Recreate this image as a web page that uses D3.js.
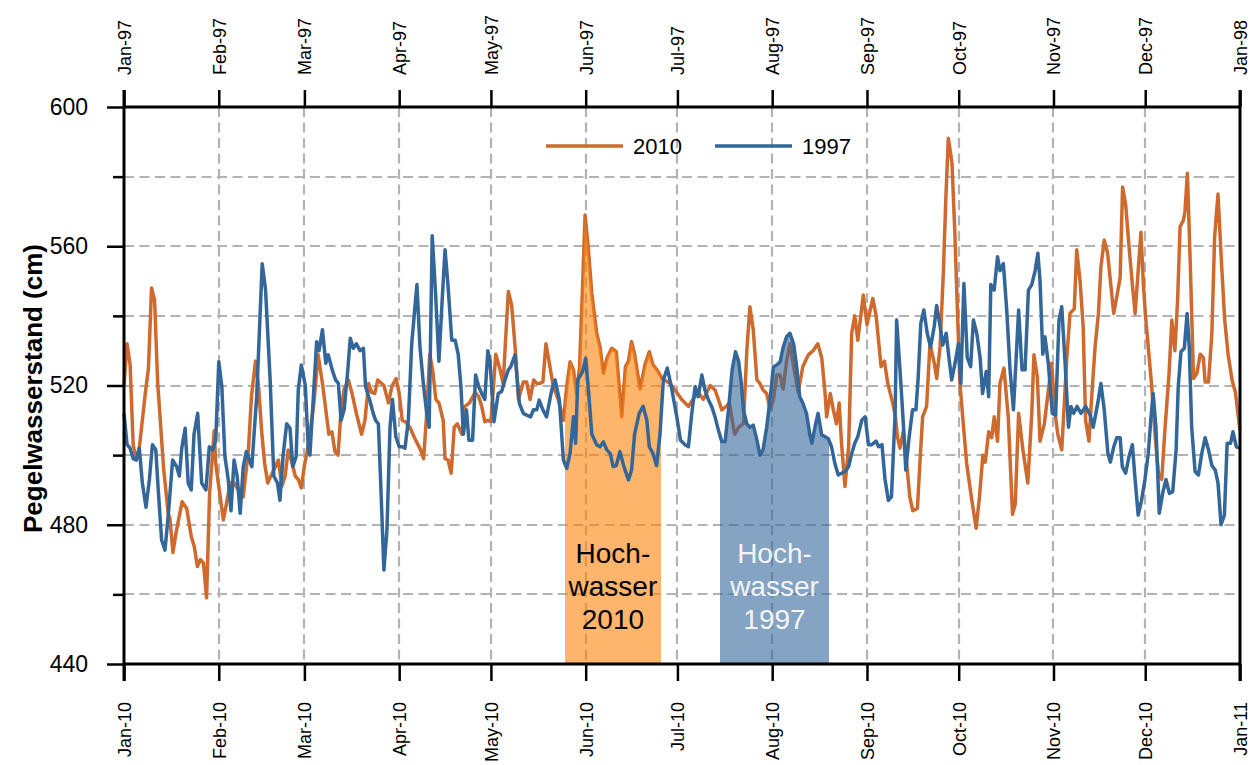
<!DOCTYPE html>
<html><head><meta charset="utf-8">
<script src="https://cdn.jsdelivr.net/npm/d3@7/dist/d3.min.js"></script>
<style>
body{margin:0;background:#fff;}
text{font-family:"Liberation Sans",Arial,sans-serif;}
</style></head>
<body><svg id="chart" width="1256" height="765"></svg>
<script>
// ---- DATA (day of year offsets from Jan 1, and water level in cm) ----
const days2010 = [0,1,2,3,4,5,7,8,9,10,11,13,14.5,15,16,17,19,20.5,22,23,24,25,26,27,28,29.5,30,31,32.5,33.5,34.7,36,38,39,40.7,41.7,43,44,45,46,47,48,49,50.5,51.6,52.7,53.7,55,56,57,58,59,60,62,63.5,65,67,68,69,70,71,72,73.4,74.5,76,77.7,78.8,80,81,82,83,85,86.5,87.7,89,90,91,92,93.5,95,97,98,99,100,101,102,103,104.4,105,106,107,108,109,110.5,111.5,113,114.8,116,117,118,119,120,121.6,123,124,125.7,126.8,128,129,130.6,131.7,132.8,134,135,136,137,138,139,140.4,142,143.7,144.8,145.9,147,148,149,150,150.8,151.8,153,154.6,155.7,156.8,158,159.5,161,162.8,164,165,166,167,168.8,170.4,171.8,173,174.7,176,178.6,180.8,182.4,184.6,186.8,187.8,189.5,191.7,193.3,194.4,195.5,197,198,199.3,199.8,201,202.6,203.7,204.7,205.8,207,208,209,210.2,211.3,212.4,213.5,214.6,215.6,216.7,217.8,219,220.5,222,223.8,225.4,226.9,228.2,229.3,229.8,231,232,233,233.9,234.7,235.8,237,238,239,240,241.8,243,244.9,246,247.6,248.7,249.8,251.4,252.3,253,253.8,254.9,256,257,258,259.5,260.3,261.2,262.5,263.6,265,265.8,266.9,268,268.8,269.6,270.8,271.7,272.5,273.4,274.5,275.6,277.3,278.7,279.8,280.9,281.7,282.8,283.8,284.6,285.7,286.5,287.8,289.2,290.6,291.5,292.6,294,295.6,296.9,297.6,298.7,299.6,301,303.4,304.4,305.4,306.7,308.3,309.4,310.8,311.6,312.7,313.7,314.5,315.6,316.5,317.6,318.7,319.5,320.6,321.7,322.8,323.7,324.7,325.8,326.6,327.6,328.7,329.8,330.7,331.7,332.6,333.4,334.1,335,336.1,337.2,338.3,339.4,340.5,341.8,342.7,343.7,344.6,345.4,346.5,347,347.8,348.7,349.8,350.9,352,353,353.6,354.7,355.8,356.7,357.8,358.9,360,361.1,362.4,363.5,365];
const level2010 = [520,532,526,503,498.6,502,518,525,548,544.6,521,495.7,483,482,472,477.6,486.6,484.7,476.6,473.7,468,470,469,459,489,507,497.6,491,481.4,486,492,492,489,488,501.5,517,527,520,507,497.6,492,494,495.7,498.6,491,494,501.5,497.6,494,493,490.6,497,501.5,514,528.8,520,506,506.7,501,500,513,519,521.6,518,512,506,510,520.6,518,517.7,521.6,520,515,520,522,517.7,510,509.6,508,505,501.5,499,512,529,524,516,515,510,499,498.6,494.8,508,509,506,514,515,518,516.8,514,509.6,510,509.6,529,524.5,520.6,547,543,530,516,521,521,516,521.6,520.6,520.6,521,532,527,519.7,516,510,519.7,526.8,524.5,517.7,525.4,549,569,560,546.5,535,531,523.5,528,530.7,529.7,511,525.4,527,532.6,529,519,526,529.7,526,524,522,520.6,518,516,514,517,518,516,520,518.7,516,513,514,515,508,506,508,509,530,542.6,536,521.6,520.6,518.7,517.7,513,516,523,523,519,527,532,525.4,518,525.4,528.8,530,532,528,517.7,511,517.7,513,509,515,503,491,502.4,535,540,533,546,537.5,545,540,525.4,527,520.6,515,511,505,502,507,497.6,488,484,484.7,497.6,511,514,532,526.4,522,531,553,574,591,584,564.7,543.6,520.6,509,497.6,487,479,488,500,498,506.7,505,511,504,520.6,525,511,483,486,512,501.5,492,512,528.8,522.5,504,509,526.4,513,506,501.5,527,540.7,542,559,550,537,510,504,516.8,531,540.7,554,561.8,558,548.4,540.7,545.5,551,577,572,560,549,540.7,553,564,549,540,531,520,506,494.8,493,508,523.5,538.8,530,544.6,565.6,567.5,570,581,556,522,523.5,529,528,521,521,535,562.7,575,556,538.8,529,521.6,518,507];

const days1997 = [0,1,2,3,4,5,6,7.2,8.3,9.3,10.4,11.2,12.3,13.4,14.5,15.9,17.2,18.1,18.9,20,21,22,22.9,24.1,25.4,26.8,27.9,29,30,31,32,33,34.1,35,36,37,38,39,40,41.8,43.4,45.2,46.3,47.8,49,50.2,51,52,53.2,54.3,55.2,56.3,57,58,59.3,60.3,60.8,62,63,63.8,64.9,66,66.8,68.1,69.2,70.1,71,72,73.2,74,75,76,77.2,78.3,79,80.5,81.5,82.3,83.2,84,85,86,87,87.8,88.9,90,91,91.9,93,94.1,95.8,96.8,97.9,99,99.8,100.8,101.9,103,104,105,106,107.2,108.3,109.3,110.2,111,112,112.8,114,115,116,117,118,119,119.7,121,122.4,123.5,124.6,125.7,126.5,127.9,129.3,130.6,131.7,133,133.9,135,135.8,137,138.2,139.9,141,142.4,143.7,144.8,145.9,147,147.7,148.4,150,151,151.9,153,154.6,155.7,156.8,157.9,159,160,161,162.2,163.5,165,166,167,168.5,169.8,171,171.8,173,174.2,175.3,176.4,177.7,179,180.8,182,183.5,184.6,185.7,186.8,187.8,189,190,191.1,192.2,193.3,194.4,195.5,196.6,197.7,198.9,200,201,201.9,202.6,203.7,204.7,205.8,207,208,209,210.2,211.3,212.4,213.5,214.6,215.6,216.7,217.8,219,220,221,222,223.2,224.3,225,226.2,227,228.2,229.3,230.3,231.4,232.5,233.6,234.7,235.8,237,238,239,240,241.3,242.4,243.5,244.6,246,246.8,247.9,248.9,250,251,252.2,252.7,253.8,254.9,255.7,256.8,257.9,259,259.7,260.6,261.6,262.7,263.8,265,265.8,266.9,267.8,268.9,269.8,270.7,271.8,272.9,273.7,274.7,275.8,276.9,277.8,278.9,280,280.8,282,282.8,283.5,284.6,285.7,286.5,287.6,288.7,289.8,290.9,291.7,292.6,293.7,294.7,295.8,296.9,298,298.9,299.6,300.5,301.2,302.3,303.6,304.7,305.8,306.7,307.8,308.9,309.7,310.6,311.7,313,314.5,316,317,318.5,319.5,320.6,321.8,322.6,323.7,324.7,325.8,326.5,327.6,328.7,329.8,330.7,331.7,332.8,333.9,335,335.9,336.6,337.5,338.6,339.7,340.8,341.9,343,344.1,344.8,345.7,346.8,347.7,348.4,349.2,350.3,351.4,352.5,353.6,354.7,355.8,356.9,357.8,358.8,359.9,360.8,361.9,362.7,363.8,365];
const level1997 = [512,503,502,499,498.6,502,492,485,493,503,501.5,490,475.6,472.7,483,498.6,496.7,494,502,507.7,492,490,506,512,492,490,502.4,501.5,504.3,526.8,519.7,499.6,492.9,484,498.6,494,483.3,496.7,501,496.7,516.8,555,547.4,521.6,494,492,487,499.6,509,507.7,496.7,499.6,518.7,525.9,520,501.5,500,517.7,532.6,530,536,526.4,528.8,524.5,521.6,520.6,510,513,524.5,533.6,530.7,532,530,530.7,519.7,515.4,512,510,509,491,467,478.5,508,516,505.3,502.4,502.4,502,510,532,549,531,520.6,512,508,563,546.5,527,543.6,559,548.4,533,533,529,519.7,506,513,504.3,504.3,523,519.7,517.7,516,530,527,509.6,517.7,518.3,521.6,524.5,525.4,528.8,514.9,512,511.5,511,513,513,515.8,513,511,518.7,521.6,515.8,498.6,496.2,500.5,511,503.4,521.6,524,527.8,518.7,506,503,502.4,503.8,501.5,500.5,496.7,497,501,496.7,492.9,495.7,506,512,514,510,502.4,500.5,497,506,521.6,525,519.7,511,504.3,503,502.4,512,519.7,516.8,523,518.7,516,514,511,507.2,503.9,503.9,513,524.5,529.7,527,520.6,513,509,508,508.6,504.3,500,501.5,508,516,525.4,525.9,526.8,531,534,535,532,525.4,516.8,515,512,506,503.4,509,512,505.8,505.3,504.8,502.4,497.6,494.3,494.8,495.3,496.7,500.5,503.4,505.3,510,511,503,503,504,502.4,503,493,487,488,512,538.8,524.5,509,495.7,505.3,513,513,521.6,537.8,541.7,535,531,537,543,537,531.6,535,528,521.6,526.4,532,520.6,549.3,528,525.4,538.8,535,528,517.7,524,516.8,549,547.4,557,553,555,541.7,524.5,513,526.4,541.7,524.5,524.5,547.4,549,553,558,550,529,534,526.4,512,511.5,538.8,542.6,526.4,508,514,512,514,512,514,511.5,508,515,520.6,513,500.5,498,502.4,505,505,496.7,494.8,499.6,503,492.9,482.8,487,492.9,500.5,511,517.7,508,483.3,489,493,489,489.5,501.5,519.7,529.7,530.7,540.7,531,508,495.3,494.3,500.5,505,501.5,497,495.7,492,480,482.8,503.4,503.4,506.7,502.4,502];

const seriesNames = ["2010", "1997"];
const yMajorTicks = [440, 480, 520, 560, 600];
const yMinorTicks = [460, 500, 540, 580];
const floodDays2010 = [144.2, 175.6];   // Hochwasser 2010 (day offsets)
const floodDays1997 = [194.9, 230.6];   // Hochwasser 1997 (day offsets)
const floodLabels = [["Hoch-", "wasser", "2010"], ["Hoch-", "wasser", "1997"]];
const yLabel = "Pegelwasserstand (cm)";

// ---- LAYOUT ----
const svg = d3.select("#chart");
const L = 124, R = 1240, T = 107, B = 664;
const DAY = 864e5;
const t2010 = Date.UTC(2010, 0, 1), t1997 = Date.UTC(1997, 0, 1);
const x2010 = d3.scaleUtc().domain([new Date(t2010), new Date(Date.UTC(2011, 0, 1))]).range([L, R]);
const x1997 = d3.scaleUtc().domain([new Date(t1997), new Date(Date.UTC(1998, 0, 1))]).range([L, R]);
const y = d3.scaleLinear().domain([440, 600]).range([B, T]);

const d2010 = days2010.map((d, i) => ({date: new Date(t2010 + d * DAY), v: level2010[i]}));
const d1997 = days1997.map((d, i) => ({date: new Date(t1997 + d * DAY), v: level1997[i]}));

const cOrange = "#cf6a2f", cBlue = "#336699";
const fOrange = "#fc8208", fBlue = "#336699";
const gridC = "#b3b3b3";

// grid
const months = x2010.ticks(d3.utcMonth.every(1));
const grid = svg.append("g");
grid.selectAll(".vg").data(months.slice(1, -1)).join("line")
  .attr("x1", d => Math.round(x2010(d))).attr("x2", d => Math.round(x2010(d))).attr("y1", T).attr("y2", B)
  .attr("stroke", gridC).attr("stroke-width", 2.2).attr("stroke-dasharray", "10,5.5");
grid.selectAll(".hg").data(d3.range(460, 600, 20)).join("line")
  .attr("x1", L).attr("x2", R).attr("y1", d => Math.round(y(d))).attr("y2", d => Math.round(y(d)))
  .attr("stroke", gridC).attr("stroke-width", 2.2).attr("stroke-dasharray", "10,5.5");

// clip paths
const defs = svg.append("defs");
function clipFor(id, scale, t0, dd) {
  const x0 = scale(new Date(t0 + dd[0] * DAY)), x1 = scale(new Date(t0 + dd[1] * DAY));
  defs.append("clipPath").attr("id", id).append("rect")
    .attr("x", x0).attr("y", T).attr("width", x1 - x0).attr("height", B - T);
  return (x0 + x1) / 2;
}
const cx10 = clipFor("clip10", x2010, t2010, floodDays2010);
const cx97 = clipFor("clip97", x1997, t1997, floodDays1997);

const line10 = d3.line().x(d => x2010(d.date)).y(d => y(d.v));
const line97 = d3.line().x(d => x1997(d.date)).y(d => y(d.v));
const area10 = d3.area().x(d => x2010(d.date)).y0(B).y1(d => y(d.v));
const area97 = d3.area().x(d => x1997(d.date)).y0(B).y1(d => y(d.v));

svg.append("path").datum(d2010).attr("d", line10).attr("fill", "none")
  .attr("stroke", cOrange).attr("stroke-width", 3.5).attr("stroke-linejoin", "round");
svg.append("path").datum(d2010).attr("d", area10).attr("clip-path", "url(#clip10)")
  .attr("fill", fOrange).attr("fill-opacity", 0.6);
svg.append("path").datum(d1997).attr("d", area97).attr("clip-path", "url(#clip97)")
  .attr("fill", fBlue).attr("fill-opacity", 0.6);
svg.append("path").datum(d1997).attr("d", line97).attr("fill", "none")
  .attr("stroke", cBlue).attr("stroke-width", 3.5).attr("stroke-linejoin", "round");

// flood labels
function floodText(cx, lines, color) {
  const t = svg.append("text").attr("text-anchor", "middle").attr("font-size", 28).attr("fill", color);
  lines.forEach((s, i) => t.append("tspan").attr("x", cx).attr("y", 563 + i * 33).text(s));
}
floodText(cx10, floodLabels[0], "#000");
floodText(cx97, floodLabels[1], "#f4f4f4");

// frame
const frame = svg.append("g").attr("stroke", "#000").attr("stroke-width", 3).attr("fill", "none");
frame.append("line").attr("x1", L).attr("x2", R).attr("y1", T).attr("y2", T);
frame.append("line").attr("x1", L).attr("x2", R).attr("y1", B).attr("y2", B);
frame.append("line").attr("x1", L).attr("x2", L).attr("y1", T - 17).attr("y2", B + 17);
frame.append("line").attr("x1", R).attr("x2", R).attr("y1", T - 17).attr("y2", B + 17);

// bottom axis (2010)
const fmt = d3.utcFormat("%b-%y");
const bx = svg.append("g").attr("transform", `translate(0,${B})`)
  .call(d3.axisBottom(x2010).ticks(d3.utcMonth.every(1)).tickFormat(fmt).tickSize(17).tickSizeOuter(0));
bx.select(".domain").remove();
bx.selectAll(".tick line").attr("stroke", "#000").attr("stroke-width", 2.5);
bx.selectAll(".tick text").attr("font-size", 18).attr("fill", "#000")
  .attr("transform", "rotate(-90)").attr("text-anchor", "end")
  .attr("x", -38).attr("y", 0).attr("dy", "0.35em");

// top axis (1997)
const tx = svg.append("g").attr("transform", `translate(0,${T})`)
  .call(d3.axisTop(x1997).ticks(d3.utcMonth.every(1)).tickFormat(fmt).tickSize(17).tickSizeOuter(0));
tx.select(".domain").remove();
tx.selectAll(".tick line").attr("stroke", "#000").attr("stroke-width", 2.5);
tx.selectAll(".tick text").attr("font-size", 18).attr("fill", "#000")
  .attr("transform", "rotate(-90)").attr("text-anchor", "start")
  .attr("x", 32).attr("y", 0).attr("dy", "0.35em");

// left axis
const ly = svg.append("g").attr("transform", `translate(${L},0)`)
  .call(d3.axisLeft(y).tickValues(yMajorTicks).tickSize(17).tickSizeOuter(0).tickPadding(19));
ly.select(".domain").remove();
ly.selectAll(".tick line").attr("stroke", "#000").attr("stroke-width", 2.5);
ly.selectAll(".tick text").attr("font-size", 23).attr("fill", "#000");
const lm = svg.append("g").attr("transform", `translate(${L},0)`)
  .call(d3.axisLeft(y).tickValues(yMinorTicks).tickSize(11).tickFormat(""));
lm.select(".domain").remove();
lm.selectAll(".tick line").attr("stroke", "#000").attr("stroke-width", 2.5);

// y label
svg.append("text").attr("transform", `translate(42,${(T + B) / 2 + 3}) rotate(-90)`)
  .attr("text-anchor", "middle").attr("font-size", 26).attr("font-weight", "bold").text(yLabel);

// legend
const lg = svg.append("g");
[[546, cOrange, seriesNames[0]], [715, cBlue, seriesNames[1]]].forEach(([lx, c, s]) => {
  lg.append("line").attr("x1", lx).attr("x2", lx + 77).attr("y1", 146).attr("y2", 146)
    .attr("stroke", c).attr("stroke-width", 3.5);
  lg.append("text").attr("x", lx + 87).attr("y", 154).attr("font-size", 22).text(s);
});
</script></body></html>
